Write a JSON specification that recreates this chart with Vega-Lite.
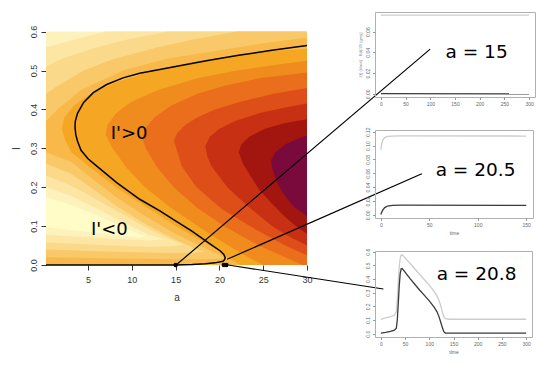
{
  "$schema": "https://vega.github.io/schema/vega-lite/v6.json",
  "padding": {"left": 11, "top": 11, "right": 5, "bottom": 2},
  "bounds": "flush",
  "spacing": 68,
  "config": {
    "view": {"stroke": null},
    "font": "Liberation Sans",
    "axis": {"grid": false, "domain": false, "titleFontWeight": "normal", "labelOverlap": false, "labelFlush": false, "labelBound": false},
    "axisX": {"labelOverlap": false},
    "axisY": {"labelOverlap": false}
  },
  "hconcat": [
    {
      "width": 261,
      "height": 253,
      "layer": [
        {
          "data": {"values": [
            {"k":1,"I":0,"a":0.2},{"k":1,"I":0.6,"a":0.2},
            {"k":2,"I":0,"a":0.2},{"k":2,"I":0.56,"a":0.2},{"k":2,"I":0.58,"a":3.5},{"k":2,"I":0.6,"a":7},
            {"k":3,"I":0,"a":0.2},{"k":3,"I":0.51,"a":0.2},{"k":3,"I":0.53,"a":2},{"k":3,"I":0.56,"a":6},{"k":3,"I":0.58,"a":9.5},{"k":3,"I":0.6,"a":14},
            {"k":4,"I":0,"a":0.2},{"k":4,"I":0.44,"a":0.2},{"k":4,"I":0.46,"a":1.5},{"k":4,"I":0.5,"a":4.5},{"k":4,"I":0.53,"a":8},{"k":4,"I":0.56,"a":13},{"k":4,"I":0.58,"a":17},{"k":4,"I":0.6,"a":22},
            {"k":5,"I":0,"a":0.2},{"k":5,"I":0.37,"a":0.2},{"k":5,"I":0.4,"a":1.5},{"k":5,"I":0.45,"a":4.2},{"k":5,"I":0.5,"a":9},{"k":5,"I":0.53,"a":14},{"k":5,"I":0.55,"a":19.5},{"k":5,"I":0.57,"a":25},{"k":5,"I":0.585,"a":30},
            {"k":6,"I":0,"a":22.3},{"k":6,"I":0.01,"a":21.6},{"k":6,"I":0.02,"a":20.9},{"k":6,"I":0.035,"a":20.0},{"k":6,"I":0.06,"a":18.2},{"k":6,"I":0.1,"a":15.0},{"k":6,"I":0.15,"a":11.6},{"k":6,"I":0.2,"a":8.2},{"k":6,"I":0.25,"a":5.3},{"k":6,"I":0.29,"a":3.1},{"k":6,"I":0.32,"a":2.4},{"k":6,"I":0.35,"a":2.0},{"k":6,"I":0.38,"a":2.3},{"k":6,"I":0.41,"a":3.4},{"k":6,"I":0.44,"a":5.3},{"k":6,"I":0.47,"a":8.2},{"k":6,"I":0.5,"a":12.5},{"k":6,"I":0.52,"a":16.5},{"k":6,"I":0.54,"a":22},{"k":6,"I":0.55,"a":26},{"k":6,"I":0.555,"a":30},
            {"k":7,"I":0,"a":25},{"k":7,"I":0.02,"a":23.3},{"k":7,"I":0.05,"a":21},{"k":7,"I":0.1,"a":17.5},{"k":7,"I":0.15,"a":14.3},{"k":7,"I":0.2,"a":11.5},{"k":7,"I":0.25,"a":9.4},{"k":7,"I":0.3,"a":7.8},{"k":7,"I":0.335,"a":7.0},{"k":7,"I":0.36,"a":7.2},{"k":7,"I":0.39,"a":8.2},{"k":7,"I":0.42,"a":10},{"k":7,"I":0.45,"a":13},{"k":7,"I":0.48,"a":17.5},{"k":7,"I":0.5,"a":22},{"k":7,"I":0.515,"a":26.5},{"k":7,"I":0.525,"a":30},
            {"k":8,"I":0,"a":29.5},{"k":8,"I":0.02,"a":27.5},{"k":8,"I":0.05,"a":24.5},{"k":8,"I":0.1,"a":20.5},{"k":8,"I":0.15,"a":17.3},{"k":8,"I":0.2,"a":14.8},{"k":8,"I":0.25,"a":12.9},{"k":8,"I":0.3,"a":11.6},{"k":8,"I":0.325,"a":11.2},{"k":8,"I":0.35,"a":11.5},{"k":8,"I":0.38,"a":12.6},{"k":8,"I":0.41,"a":14.5},{"k":8,"I":0.44,"a":17.5},{"k":8,"I":0.46,"a":20.5},{"k":8,"I":0.48,"a":24.5},{"k":8,"I":0.495,"a":30},
            {"k":9,"I":0.025,"a":30},{"k":9,"I":0.05,"a":27.5},{"k":9,"I":0.092,"a":24.1},{"k":9,"I":0.143,"a":20.3},{"k":9,"I":0.2,"a":17.4},{"k":9,"I":0.254,"a":15.7},{"k":9,"I":0.306,"a":15.0},{"k":9,"I":0.32,"a":14.8},{"k":9,"I":0.34,"a":15.2},{"k":9,"I":0.36,"a":16.1},{"k":9,"I":0.38,"a":17.5},{"k":9,"I":0.4,"a":19.5},{"k":9,"I":0.42,"a":22.5},{"k":9,"I":0.44,"a":26.2},{"k":9,"I":0.455,"a":30},
            {"k":10,"I":0.05,"a":30},{"k":10,"I":0.075,"a":27.8},{"k":10,"I":0.1,"a":26},{"k":10,"I":0.15,"a":23.3},{"k":10,"I":0.2,"a":20.9},{"k":10,"I":0.254,"a":19.1},{"k":10,"I":0.28,"a":18.6},{"k":10,"I":0.305,"a":18.4},{"k":10,"I":0.33,"a":18.9},{"k":10,"I":0.35,"a":20.0},{"k":10,"I":0.37,"a":21.8},{"k":10,"I":0.39,"a":24.5},{"k":10,"I":0.405,"a":27.5},{"k":10,"I":0.415,"a":30},
            {"k":11,"I":0.08,"a":30},{"k":11,"I":0.1,"a":28.7},{"k":11,"I":0.126,"a":27.4},{"k":11,"I":0.16,"a":25.9},{"k":11,"I":0.195,"a":24.5},{"k":11,"I":0.22,"a":23.8},{"k":11,"I":0.26,"a":22.7},{"k":11,"I":0.29,"a":22.2},{"k":11,"I":0.31,"a":22.5},{"k":11,"I":0.33,"a":23.4},{"k":11,"I":0.35,"a":25.2},{"k":11,"I":0.365,"a":27.5},{"k":11,"I":0.375,"a":30},
            {"k":12,"I":0.125,"a":30},{"k":12,"I":0.15,"a":28.5},{"k":12,"I":0.18,"a":27.4},{"k":12,"I":0.21,"a":26.6},{"k":12,"I":0.25,"a":26.0},{"k":12,"I":0.27,"a":25.9},{"k":12,"I":0.29,"a":26.4},{"k":12,"I":0.31,"a":27.5},{"k":12,"I":0.325,"a":29},{"k":12,"I":0.333,"a":30}
          ]},
          "mark": {"type": "area", "orient": "horizontal"},
          "encoding": {
            "y": {"field": "I", "type": "quantitative",
              "scale": {"domain": [0, 0.6504], "nice": false, "zero": false},
              "axis": {"values": [0, 0.1, 0.2, 0.3, 0.4, 0.5, 0.6], "format": ".1f", "labelAngle": 270, "labelAlign": "center", "labelBaseline": "bottom", "labelFontSize": 9, "labelColor": "#333", "tickColor": "#333", "tickSize": 5, "labelPadding": 3, "labelOverlap": false, "title": "I", "titleFontSize": 10, "titleColor": "#333", "titleAngle": 270, "titleX": -30, "titleY": 136, "titleBaseline": "middle", "titleAlign": "center"}},
            "x": {"field": "a", "type": "quantitative", "stack": null,
              "scale": {"domain": [0.2, 30], "nice": false, "zero": false},
              "axis": {"values": [5, 10, 15, 20, 25, 30], "labelFontSize": 9, "labelColor": "#333", "tickColor": "#333", "tickSize": 5, "labelPadding": 5, "labelOverlap": false, "title": "a", "titleFontSize": 10, "titleColor": "#333", "titlePadding": 8}},
            "x2": {"datum": 30},
            "color": {"field": "k", "type": "ordinal",
              "scale": {"domain": [0,1,2,3,4,5,6,7,8,9,10,11,12], "range": ["#FFFCC8","#FEF2BC","#FDE6A3","#FBD98A","#F9C868","#F8B94A","#F5A623","#F08C1E","#EA6E1B","#DE4E19","#C73013","#A3150F","#7A0A3C"]},
              "legend": null}
          }
        },
        {
          "data": {"values": [
            {"k":4,"a":0.2,"lo":0.02,"hi":0.29},{"k":4,"a":3.1,"lo":0.019,"hi":0.265},{"k":4,"a":5.3,"lo":0.018,"hi":0.225},{"k":4,"a":8.2,"lo":0.017,"hi":0.175},{"k":4,"a":11.6,"lo":0.016,"hi":0.125},{"k":4,"a":15,"lo":0.015,"hi":0.08},{"k":4,"a":18.2,"lo":0.015,"hi":0.045},{"k":4,"a":20,"lo":0.016,"hi":0.025},{"k":4,"a":20.6,"lo":0.018,"hi":0.018},
            {"k":3,"a":0.2,"lo":0.04,"hi":0.26},{"k":3,"a":3,"lo":0.038,"hi":0.235},{"k":3,"a":5.3,"lo":0.036,"hi":0.2},{"k":3,"a":8.2,"lo":0.034,"hi":0.152},{"k":3,"a":11.6,"lo":0.032,"hi":0.105},{"k":3,"a":15,"lo":0.031,"hi":0.065},{"k":3,"a":17.5,"lo":0.032,"hi":0.04},{"k":3,"a":18.3,"lo":0.034,"hi":0.034},
            {"k":2,"a":0.2,"lo":0.058,"hi":0.23},{"k":2,"a":3,"lo":0.055,"hi":0.205},{"k":2,"a":6,"lo":0.052,"hi":0.168},{"k":2,"a":9,"lo":0.049,"hi":0.13},{"k":2,"a":12,"lo":0.047,"hi":0.092},{"k":2,"a":14.5,"lo":0.048,"hi":0.065},{"k":2,"a":16,"lo":0.052,"hi":0.052},
            {"k":1,"a":0.2,"lo":0.078,"hi":0.2},{"k":1,"a":3,"lo":0.074,"hi":0.178},{"k":1,"a":6,"lo":0.07,"hi":0.145},{"k":1,"a":9,"lo":0.066,"hi":0.11},{"k":1,"a":12,"lo":0.063,"hi":0.077},{"k":1,"a":13.7,"lo":0.066,"hi":0.066},
            {"k":0,"a":0.2,"lo":0.098,"hi":0.175},{"k":0,"a":3,"lo":0.09,"hi":0.155},{"k":0,"a":6,"lo":0.082,"hi":0.128},{"k":0,"a":9,"lo":0.075,"hi":0.097},{"k":0,"a":11,"lo":0.071,"hi":0.078},{"k":0,"a":11.6,"lo":0.073,"hi":0.073}
          ]},
          "mark": {"type": "area", "orient": "vertical"},
          "encoding": {
            "x": {"field": "a", "type": "quantitative"},
            "y": {"field": "lo", "type": "quantitative", "stack": null},
            "y2": {"field": "hi"},
            "color": {"field": "k", "type": "ordinal", "legend": null}
          }
        },
        {
          "data": {"values": [
            {"o":1,"a":30,"I":0.564},{"o":2,"a":26,"I":0.552},{"o":3,"a":22.2,"I":0.539},{"o":4,"a":18.5,"I":0.525},{"o":5,"a":14.7,"I":0.509},{"o":6,"a":10.9,"I":0.493},{"o":7,"a":9,"I":0.481},{"o":8,"a":7.13,"I":0.464},{"o":9,"a":5.6,"I":0.443},{"o":10,"a":4.5,"I":0.418},{"o":11,"a":3.8,"I":0.39},{"o":12,"a":3.55,"I":0.37},{"o":13,"a":3.51,"I":0.355},{"o":14,"a":3.6,"I":0.335},{"o":15,"a":3.8,"I":0.318},{"o":16,"a":4.2,"I":0.295},{"o":17,"a":5,"I":0.273},{"o":18,"a":6,"I":0.254},{"o":19,"a":8.27,"I":0.212},{"o":20,"a":10.9,"I":0.169},{"o":21,"a":13.2,"I":0.139},{"o":22,"a":14.9,"I":0.115},{"o":23,"a":16.86,"I":0.087},{"o":24,"a":18.76,"I":0.057},{"o":25,"a":20.1,"I":0.036},{"o":26,"a":20.5,"I":0.027},{"o":27,"a":20.66,"I":0.019},{"o":28,"a":20.6,"I":0.014},{"o":29,"a":20.4,"I":0.0095},{"o":30,"a":19.5,"I":0.0055},{"o":31,"a":18.4,"I":0.003},{"o":32,"a":16.9,"I":0.0012},{"o":33,"a":15,"I":0.0003},{"o":34,"a":13,"I":0},{"o":35,"a":0.2,"I":0}
          ]},
          "mark": {"type": "line", "color": "black", "strokeWidth": 1.5},
          "encoding": {
            "x": {"field": "a", "type": "quantitative"},
            "y": {"field": "I", "type": "quantitative"},
            "order": {"field": "o"}
          }
        },
        {
          "data": {"values": [
            {"a":15.05,"I":0,"a2":44.06,"I2":0.555},
            {"a":20.88,"I":0.0146,"a2":43.11,"I2":0.2347},
            {"a":21.0,"I":0,"a2":38.72,"I2":-0.0617}
          ]},
          "mark": {"type": "rule", "color": "black", "strokeWidth": 1.2},
          "encoding": {
            "x": {"field": "a", "type": "quantitative"},
            "y": {"field": "I", "type": "quantitative"},
            "x2": {"field": "a2"},
            "y2": {"field": "I2"}
          }
        },
        {
          "data": {"values": [{"a":15,"I":0},{"a":20.5,"I":0},{"a":20.8,"I":0}]},
          "mark": {"type": "point", "filled": true, "color": "black", "opacity": 1, "size": 20},
          "encoding": {
            "x": {"field": "a", "type": "quantitative"},
            "y": {"field": "I", "type": "quantitative"}
          }
        },
        {
          "data": {"values": [{"a":9.69,"I":0.338,"t":"I'>0"},{"a":7.43,"I":0.0908,"t":"I'<0"}]},
          "mark": {"type": "text", "font": "DejaVu Sans", "fontSize": 18, "color": "black", "baseline": "middle", "align": "center"},
          "encoding": {
            "x": {"field": "a", "type": "quantitative"},
            "y": {"field": "I", "type": "quantitative"},
            "text": {"field": "t"}
          }
        }
      ]
    },
    {
      "vconcat": [
        {
          "width": 160,
          "height": 85,
          "view": {"stroke": "#b0b0b0"},
          "layer": [
            {
              "data": {"values": [{"t":0,"v":0.0759},{"t":300,"v":0.0759}]},
              "mark": {"type": "line", "strokeWidth": 1.3, "color": "#cccccc"},
              "encoding": {
                "x": {"field": "t", "type": "quantitative", "scale": {"domain": [-12, 312], "nice": false, "zero": false},
                  "axis": {"tickCount": 7, "labelOverlap": false, "labelFontSize": 5, "tickSize": 2.5, "labelPadding": 2, "labelColor": "#666", "tickColor": "#999", "title": null}},
                "y": {"field": "v", "type": "quantitative", "scale": {"domain": [-0.003, 0.079], "nice": false, "zero": false},
                  "axis": {"tickCount": 4, "labelOverlap": false, "format": ".2f", "labelAngle": 270, "labelAlign": "center", "labelBaseline": "bottom", "labelFontSize": 5, "tickSize": 2.5, "labelPadding": 2, "labelColor": "#666", "tickColor": "#999", "title": "I(t) (black) · B(t)/20 (grey)", "titleFontSize": 4, "titleColor": "#888", "titlePadding": 3}}
              }
            },
            {
              "data": {"values": [{"t":0,"v":0.0002},{"t":300,"v":0.0}]},
              "mark": {"type": "line", "strokeWidth": 1.3, "color": "#3a3a3a"},
              "encoding": {
                "x": {"field": "t", "type": "quantitative"},
                "y": {"field": "v", "type": "quantitative"}
              }
            },
            {
              "data": {"values": [{"t":193.7,"v":0.0343,"label":"a = 15"}]},
              "mark": {"type": "text", "font": "DejaVu Sans", "fontSize": 18.5, "color": "black", "baseline": "alphabetic", "align": "center"},
              "encoding": {
                "x": {"field": "t", "type": "quantitative"},
                "y": {"field": "v", "type": "quantitative"},
                "text": {"field": "label"}
              }
            }
          ]
        },
        {
          "width": 158,
          "height": 88,
          "view": {"stroke": "#b0b0b0"},
          "layer": [
            {
              "data": {"values": [
                {"t":0,"v":0.094},{"t":1,"v":0.103},{"t":2,"v":0.108},{"t":4,"v":0.1115},{"t":7,"v":0.1132},{"t":12,"v":0.1138},{"t":20,"v":0.114},{"t":150,"v":0.1138}
              ]},
              "mark": {"type": "line", "strokeWidth": 1.3, "color": "#cccccc"},
              "encoding": {
                "x": {"field": "t", "type": "quantitative", "scale": {"domain": [-6, 157], "nice": false, "zero": false},
                  "axis": {"tickCount": 4, "labelOverlap": false, "labelFontSize": 5, "tickSize": 2.5, "labelPadding": 2, "labelColor": "#666", "tickColor": "#999", "title": "time", "titleFontSize": 5, "titleColor": "#666", "titlePadding": 3}},
                "y": {"field": "v", "type": "quantitative", "scale": {"domain": [-0.0045, 0.1225], "nice": false, "zero": false},
                  "axis": {"tickCount": 7, "labelOverlap": false, "format": ".2f", "labelAngle": 270, "labelAlign": "center", "labelBaseline": "bottom", "labelFontSize": 5, "tickSize": 2.5, "labelPadding": 2, "labelColor": "#666", "tickColor": "#999", "title": null}}
              }
            },
            {
              "data": {"values": [
                {"t":0,"v":0.0005},{"t":1,"v":0.004},{"t":2,"v":0.0068},{"t":4,"v":0.0105},{"t":7,"v":0.0128},{"t":12,"v":0.0138},{"t":20,"v":0.014},{"t":150,"v":0.0138}
              ]},
              "mark": {"type": "line", "strokeWidth": 1.3, "color": "#3a3a3a"},
              "encoding": {
                "x": {"field": "t", "type": "quantitative"},
                "y": {"field": "v", "type": "quantitative"}
              }
            },
            {
              "data": {"values": [{"t":97.7,"v":0.0561,"label":"a = 20.5"}]},
              "mark": {"type": "text", "font": "DejaVu Sans", "fontSize": 18.5, "color": "black", "baseline": "alphabetic", "align": "center"},
              "encoding": {
                "x": {"field": "t", "type": "quantitative"},
                "y": {"field": "v", "type": "quantitative"},
                "text": {"field": "label"}
              }
            }
          ]
        },
        {
          "width": 157,
          "height": 86,
          "view": {"stroke": "#b0b0b0"},
          "layer": [
            {
              "data": {"values": [
                {"t":0,"v":0.105},{"t":10,"v":0.115},{"t":20,"v":0.125},{"t":28,"v":0.135},{"t":32,"v":0.16},{"t":34,"v":0.25},{"t":36,"v":0.38},{"t":38,"v":0.49},{"t":40,"v":0.55},{"t":42,"v":0.575},{"t":44,"v":0.577},{"t":50,"v":0.555},{"t":60,"v":0.515},{"t":70,"v":0.475},{"t":80,"v":0.435},{"t":90,"v":0.395},{"t":100,"v":0.355},{"t":110,"v":0.31},{"t":116,"v":0.275},{"t":120,"v":0.245},{"t":124,"v":0.2},{"t":127,"v":0.16},{"t":130,"v":0.125},{"t":133,"v":0.11},{"t":140,"v":0.106},{"t":300,"v":0.106}
              ]},
              "mark": {"type": "line", "strokeWidth": 1.3, "color": "#cccccc"},
              "encoding": {
                "x": {"field": "t", "type": "quantitative", "scale": {"domain": [-12, 312], "nice": false, "zero": false},
                  "axis": {"tickCount": 7, "labelOverlap": false, "labelFontSize": 5, "tickSize": 2.5, "labelPadding": 2, "labelColor": "#666", "tickColor": "#999", "title": "time", "titleFontSize": 5, "titleColor": "#666", "titlePadding": 3}},
                "y": {"field": "v", "type": "quantitative", "scale": {"domain": [-0.024, 0.605], "nice": false, "zero": false},
                  "axis": {"tickCount": 7, "labelOverlap": false, "format": ".1f", "labelAngle": 270, "labelAlign": "center", "labelBaseline": "bottom", "labelFontSize": 5, "tickSize": 2.5, "labelPadding": 2, "labelColor": "#666", "tickColor": "#999", "title": null}}
              }
            },
            {
              "data": {"values": [
                {"t":0,"v":0.005},{"t":10,"v":0.01},{"t":20,"v":0.017},{"t":28,"v":0.026},{"t":32,"v":0.04},{"t":34,"v":0.1},{"t":36,"v":0.22},{"t":38,"v":0.35},{"t":40,"v":0.44},{"t":42,"v":0.475},{"t":44,"v":0.477},{"t":50,"v":0.45},{"t":60,"v":0.405},{"t":70,"v":0.362},{"t":80,"v":0.32},{"t":90,"v":0.28},{"t":100,"v":0.24},{"t":110,"v":0.195},{"t":116,"v":0.16},{"t":120,"v":0.125},{"t":124,"v":0.08},{"t":127,"v":0.045},{"t":130,"v":0.015},{"t":133,"v":0.005},{"t":150,"v":0.004},{"t":300,"v":0.004}
              ]},
              "mark": {"type": "line", "strokeWidth": 1.3, "color": "#3a3a3a"},
              "encoding": {
                "x": {"field": "t", "type": "quantitative"},
                "y": {"field": "v", "type": "quantitative"}
              }
            },
            {
              "data": {"values": [{"t":197.5,"v":0.393,"label":"a = 20.8"}]},
              "mark": {"type": "text", "font": "DejaVu Sans", "fontSize": 18.5, "color": "black", "baseline": "alphabetic", "align": "center"},
              "encoding": {
                "x": {"field": "t", "type": "quantitative"},
                "y": {"field": "v", "type": "quantitative"},
                "text": {"field": "label"}
              }
            }
          ]
        }
      ],
      "spacing": 33,
      "bounds": "flush"
    }
  ]
}
